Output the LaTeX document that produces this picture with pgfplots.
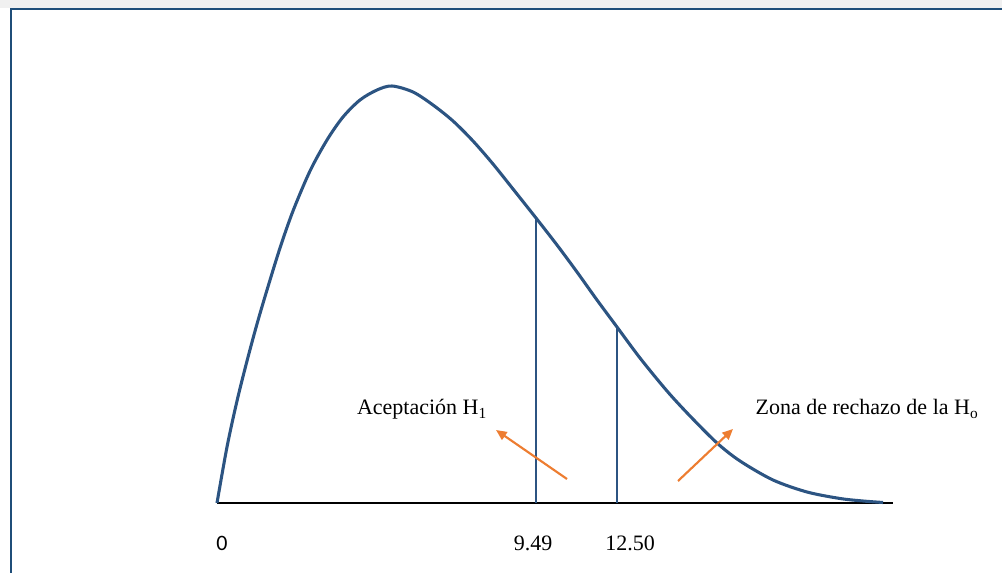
\documentclass[border=0pt]{standalone}
\usepackage{fontspec}
\setmainfont{Liberation Serif}
\newfontfamily\carlito{Carlito}
\usepackage{pgfplots}
\pgfplotsset{compat=1.18}
\usetikzlibrary{arrows.meta}

\definecolor{curveblue}{RGB}{44,84,130}
\definecolor{framblue}{RGB}{31,78,121}
\definecolor{arroworange}{RGB}{237,125,49}

\begin{document}
\begin{tikzpicture}
\begin{axis}[
  scale only axis,
  width=507pt, % 676 px of x range
  height=312pt, % 416 px of y range
  xmin=217, xmax=893,
  ymin=0, ymax=416,
  clip=false,
  axis x line*=bottom,
  axis y line=none,
  axis line style={black, line width=2.2pt, -},
  xtick={222,533,630},
  xticklabels={{\carlito 0},9.49,12.50},
  major tick length=0pt,
  xticklabel style={anchor=center, yshift=-30pt, font=\fontsize{16.5}{19}\selectfont},
]
% frame and top band
\fill[black!6] (axis cs:0,503) rectangle (axis cs:1002,495);
\draw[framblue, line width=1.6pt] (axis cs:11,-100) -- (axis cs:11,494) -- (axis cs:1030,494);

% density curve
\addplot[curveblue, line width=2.3pt, smooth, tension=0.5] coordinates {
(217,0)(227,56)(237,102)(247,142)(257,179)(267,213)(280,255)(293,292)
(310,332)(327,363)(343,386)(360,403)(377,413)(392,417)(413,411)(433,398)
(453,382)(473,362)(493,339)(513,314)(536,285)(557,258)(577,231)(597,203)
(617,176)(640,145)(667,112)(690,87)(717,60)(740,42)(773,23)(807,11)
(840,4.5)(863,2)(883,0.5)
};
% critical values
\addplot[curveblue, line width=2.1pt] coordinates {(536,0)(536,285)};
\addplot[curveblue, line width=2.1pt] coordinates {(617,0)(617,176)};

% annotations
\node[anchor=base, font=\fontsize{16.5}{19}\selectfont] at (axis cs:422,88) {Aceptación H\textsubscript{1}};
\node[anchor=base, font=\fontsize{16.5}{19}\selectfont] at (axis cs:867,88) {Zona de rechazo de la H\textsubscript{o}};
\draw[arroworange, line width=1.6pt, -{Triangle[length=8pt,width=7pt]}] (axis cs:567,24) -- (axis cs:496,73);
\draw[arroworange, line width=1.6pt, -{Triangle[length=8pt,width=7pt]}] (axis cs:678,22) -- (axis cs:733,74);

\coordinate (BL) at (axis cs:0,-70);
\coordinate (TR) at (axis cs:1002,503);
\end{axis}
\pgfresetboundingbox
\path[use as bounding box] (BL) rectangle (TR);
\end{tikzpicture}
\end{document}
